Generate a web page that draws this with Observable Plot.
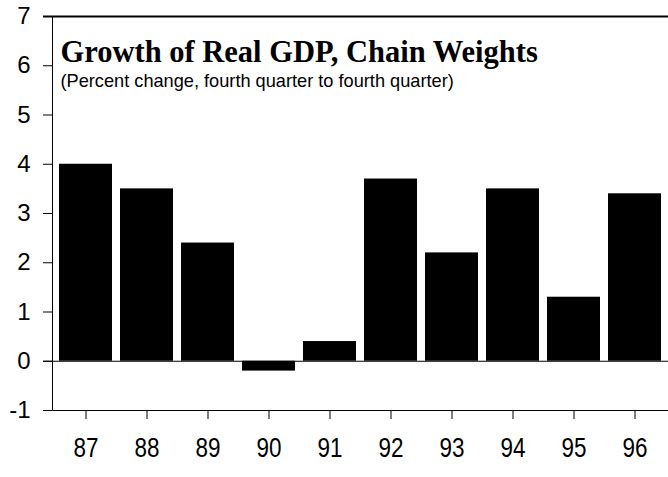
<!DOCTYPE html>
<html>
<head>
<meta charset="utf-8">
<script src="https://cdn.jsdelivr.net/npm/d3@7"></script>
<script src="https://cdn.jsdelivr.net/npm/@observablehq/plot@0.6"></script>
<style>
  html, body { margin: 0; padding: 0; background: #fff; }
  #chart svg { display: block; }
</style>
</head>
<body>
<div id="chart"></div>
<script>
const years = ["87", "88", "89", "90", "91", "92", "93", "94", "95", "96"];
const growth = [4.0, 3.5, 2.4, -0.2, 0.4, 3.7, 2.2, 3.5, 1.3, 3.4];
const yTicks = [-1, 0, 1, 2, 3, 4, 5, 6, 7];
const title = "Growth of Real GDP, Chain Weights";
const subtitle = "(Percent change, fourth quarter to fourth quarter)";

const data = years.map((year, i) => ({year, value: growth[i]}));

const chart = Plot.plot({
  width: 668,
  height: 477,
  marginLeft: 52,
  marginRight: 0,
  marginTop: 16,
  marginBottom: 67,
  style: {fontFamily: "Liberation Sans, Arial, sans-serif", color: "#000", background: "#fff"},
  x: {type: "band", domain: years, padding: 0, label: null},
  y: {domain: [-1, 7], label: null},
  marks: [
    Plot.barY(data, {x: "year", y: "value", fill: "#000", insetLeft: 4, insetRight: 4}),
    Plot.axisY(yTicks, {tickSize: 9, tickPadding: 13, fontSize: 24, stroke: "#000", label: null,
      tickFormat: d => String(d)}),
    Plot.axisX(years, {tickSize: 9, tickPadding: 18, fontSize: 27, stroke: "#000", label: null}),
    Plot.ruleY([-1, 0], {stroke: "#000", strokeWidth: 1.2, insetLeft: -9}),
    Plot.ruleY([7], {stroke: "#000", strokeWidth: 2, insetLeft: -9}),
    Plot.frame({anchor: "left", stroke: "#000"}),
    Plot.text([title], {frameAnchor: "top-left", textAnchor: "start", lineAnchor: "bottom", dx: 8, dy: 45,
      fontFamily: "Liberation Serif, Times New Roman, serif", fontWeight: "bold", fontSize: 30.5, fill: "#000"}),
    Plot.text([subtitle], {frameAnchor: "top-left", textAnchor: "start", lineAnchor: "bottom", dx: 8, dy: 70,
      fontSize: 18.2, fill: "#000"})
  ]
});
document.getElementById("chart").appendChild(chart);
// the reference's x tick labels use a narrow face: compress each label's width
chart.querySelectorAll('g[aria-label="x-axis tick label"] text').forEach(t => {
  t.setAttribute("textLength", 25);
  t.setAttribute("lengthAdjust", "spacingAndGlyphs");
});
</script>
</body>
</html>
